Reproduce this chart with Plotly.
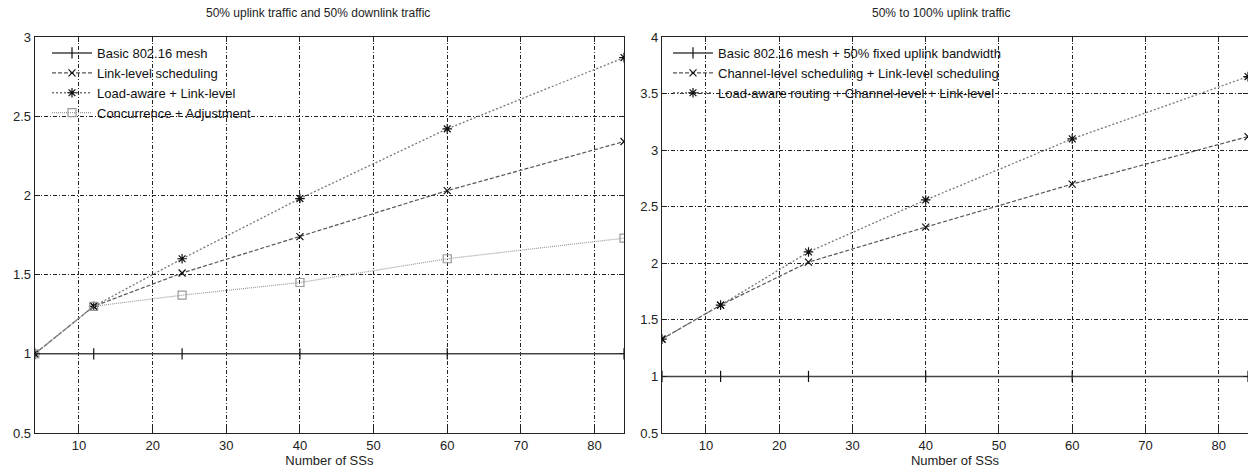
import plotly.graph_objects as go

# ---- data ----
ss_counts = [4, 12, 24, 40, 60, 84]

left_title = "50% uplink traffic and 50% downlink traffic"
left_names = ["Basic 802.16 mesh", "Link-level scheduling",
              "Load-aware + Link-level", "Concurrence + Adjustment"]
left_basic = [1, 1, 1, 1, 1, 1]
left_link = [1, 1.3, 1.51, 1.74, 2.03, 2.34]
left_load = [1, 1.3, 1.6, 1.98, 2.42, 2.87]
left_conc = [1, 1.3, 1.37, 1.45, 1.6, 1.73]

right_title = "50% to 100% uplink traffic"
right_names = ["Basic 802.16 mesh + 50% fixed uplink bandwidth",
               "Channel-level scheduling + Link-level scheduling",
               "Load-aware routing + Channel-level + Link-level"]
right_basic = [1, 1, 1, 1, 1, 1]
right_chan = [1.33, 1.63, 2.01, 2.32, 2.7, 3.12]
right_load = [1.33, 1.63, 2.1, 2.56, 3.1, 3.65]

x_ticks = [10, 20, 30, 40, 50, 60, 70, 80]
x_title = "Number of SSs"

FONT = "Liberation Sans, Arial, sans-serif"

styles = [
    dict(color="#444444", dash="solid", width=1.6, symbol="line-ns", size=8),
    dict(color="#555555", dash="4px,2px", width=1.2, symbol="x-thin", size=7),
    dict(color="#777777", dash="2px,2px", width=1.3, symbol="asterisk", size=8),
    dict(color="#999999", dash="1px,1px", width=1.2, symbol="square-open", size=8),
]

fig = go.Figure()

def add_series(x, y, name, st, xa, ya, legend):
    fig.add_trace(go.Scatter(
        x=x, y=y, name=name, mode="lines+markers",
        xaxis=xa, yaxis=ya, legend=legend,
        line=dict(color=st["color"], dash=st["dash"], width=st["width"]),
        marker=dict(symbol=st["symbol"], size=st["size"], color=st["color"],
                    line=dict(color="#111111", width=1.2)),
    ))

for ys, nm, st in zip([left_basic, left_link, left_load, left_conc], left_names, styles):
    add_series(ss_counts, ys, nm, st, "x", "y", "legend")
for ys, nm, st in zip([right_basic, right_chan, right_load], right_names, styles[:3]):
    add_series(ss_counts, ys, nm, st, "x2", "y2", "legend2")

W, H = 1248, 472
ydom = [39 / H, 435 / H]

axis_common = dict(
    automargin=False,
    showline=True, linecolor="#222222", linewidth=1.3, mirror="ticks",
    ticks="inside", ticklen=5, tickcolor="#222222",
    showgrid=True, gridcolor="#222222", gridwidth=1, griddash="4px,2px,1px,2px",
    zeroline=False, tickfont=dict(family=FONT, size=13, color="#222222"),
)

fig.update_layout(
    template="none",
    width=W, height=H,
    margin=dict(l=0, r=0, t=0, b=0, autoexpand=False),
    paper_bgcolor="white", plot_bgcolor="white",
    font=dict(family=FONT, size=13, color="#222222"),
    xaxis=dict(domain=[34.8 / W, 624 / W], range=[4, 84], tickvals=x_ticks,
               anchor="y",
               title=dict(text=x_title, standoff=3, font=dict(size=13)), **axis_common),
    yaxis=dict(domain=ydom, range=[0.5, 3], dtick=0.5, anchor="x", **axis_common),
    xaxis2=dict(domain=[662 / W, 1.0], range=[4, 84], tickvals=x_ticks,
                anchor="y2",
                title=dict(text=x_title, standoff=3, font=dict(size=13)), **axis_common),
    yaxis2=dict(domain=ydom, range=[0.5, 4], dtick=0.5, anchor="x2", **axis_common),
    legend=dict(x=47 / W, y=1 - 38 / H, xanchor="left", yanchor="top",
                bgcolor="rgba(0,0,0,0)", borderwidth=0,
                font=dict(family=FONT, size=13, color="#111111"),
                tracegroupgap=0, itemwidth=40),
    legend2=dict(x=668 / W, y=1 - 38 / H, xanchor="left", yanchor="top",
                 bgcolor="rgba(0,0,0,0)", borderwidth=0,
                 font=dict(family=FONT, size=13, color="#111111"),
                 tracegroupgap=0, itemwidth=40),
    annotations=[
        dict(text=left_title, x=318 / W, y=1 - 13 / H, xref="paper", yref="paper",
             showarrow=False, xanchor="center", yanchor="middle",
             font=dict(family=FONT, size=12, color="#222222")),
        dict(text=right_title, x=941 / W, y=1 - 13 / H, xref="paper", yref="paper",
             showarrow=False, xanchor="center", yanchor="middle",
             font=dict(family=FONT, size=12, color="#222222")),
    ],
)

# remove the browser's default body margin so the figure sits at the window origin
fig.write_html("out.html", config={"displayModeBar": False},
               post_script="document.body.style.margin='0';")
